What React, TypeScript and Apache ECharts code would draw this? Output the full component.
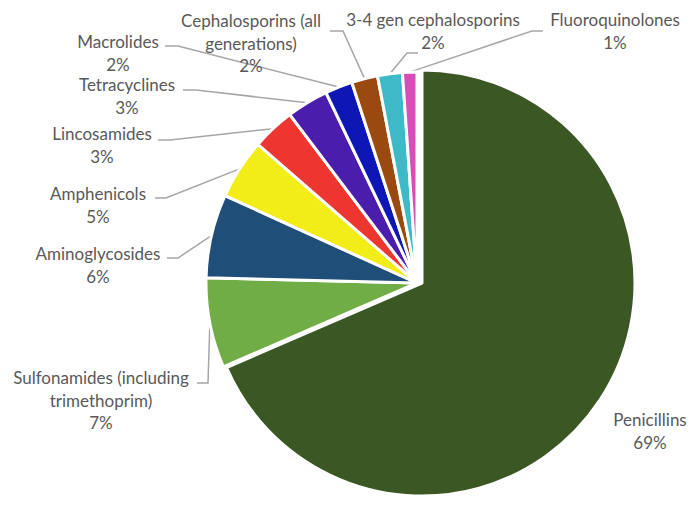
import React, { useEffect, useRef } from "react";
import * as echarts from "echarts";

const categories = [
  "Penicillins",
  "Sulfonamides (including trimethoprim)",
  "Aminoglycosides",
  "Amphenicols",
  "Lincosamides",
  "Tetracyclines",
  "Macrolides",
  "Cephalosporins (all generations)",
  "3-4 gen cephalosporins",
  "Fluoroquinolones",
];
const labelNames = [
  "Penicillins",
  "Sulfonamides (including\ntrimethoprim)",
  "Aminoglycosides",
  "Amphenicols",
  "Lincosamides",
  "Tetracyclines",
  "Macrolides",
  "Cephalosporins (all\ngenerations)",
  "3-4 gen cephalosporins",
  "Fluoroquinolones",
];
const values = [68.5, 6.9, 6.4, 4.6, 3.3, 3.2, 2.1, 2.0, 1.9, 1.1];
const colors = [
  "#3A5724",
  "#70AD47",
  "#1F4E79",
  "#F2EC17",
  "#EE3630",
  "#4B1DAD",
  "#0D17B5",
  "#9B4A0F",
  "#3EB9C8",
  "#D94DB7",
];

// label layout: [centerX, centerY, lineEndX, lineY, elbowX] (null line = no line)
const labelLayouts: Array<[number, number, number | null, number, number]> = [
  [650, 431, null, 0, 0],
  [101, 400, 197, 383, 208],
  [98, 265, 167, 258, 178],
  [98, 205, 155, 198, 166],
  [102, 145, 158, 140, 170],
  [127, 96, 183, 90, 196],
  [118, 53, 165, 46, 178],
  [251, 43, 330, 31, 343],
  [433, 31, 418, 53, 407],
  [615, 31, 543, 31, 532],
];

export default function App() {
  const ref = useRef<HTMLDivElement>(null);
  useEffect(() => {
    if (!ref.current) return;
    const chart = echarts.init(ref.current, undefined, { renderer: "svg" });

    const makeData = (penOnly: boolean) =>
      categories.map((name, i) => {
        const visible = penOnly ? i === 0 : i !== 0;
        return {
          name,
          value: values[i],
          itemStyle: visible
            ? { color: colors[i], borderColor: "#ffffff", borderWidth: 3 }
            : { color: "rgba(0,0,0,0)", borderWidth: 0 },
          label: { show: visible },
          labelLine: { show: visible && i !== 0 },
        };
      });

    const labelLayout = (params: any) => {
      const l = labelLayouts[params.dataIndex];
      const res: any = { x: l[0], y: l[1], align: "center", verticalAlign: "middle" };
      if (l[2] !== null && params.labelLinePoints) {
        const edge = params.labelLinePoints[0];
        res.labelLinePoints = [
          [edge[0], edge[1]],
          [l[4], l[3]],
          [l[2], l[3]],
        ];
      }
      return res;
    };

    const common = {
      type: "pie",
      startAngle: 90,
      clockwise: true,
      percentPrecision: 0,
      avoidLabelOverlap: false,
      label: {
        show: true,
        position: "outside",
        formatter: (p: any) => `${labelNames[p.dataIndex]}\n${p.percent}%`,
        color: "#595959",
        fontFamily: "Lato, 'Open Sans', sans-serif",
        fontSize: 17,
        lineHeight: 22.5,
        align: "center",
      },
      labelLine: {
        show: true,
        length: 10,
        length2: 10,
        lineStyle: { color: "#A6A6A6", width: 1.5 },
      },
      labelLayout,
      emphasis: { disabled: true },
    };

    chart.setOption({
      animation: false,
      backgroundColor: "#ffffff",
      series: [
        { ...common, center: [422, 283], radius: 213, data: makeData(true) },
        { ...common, center: [417, 283], radius: 211, data: makeData(false) },
      ],
    });
    return () => chart.dispose();
  }, []);
  return <div ref={ref} style={{ width: 696, height: 505, margin: -8 }} />;
}
